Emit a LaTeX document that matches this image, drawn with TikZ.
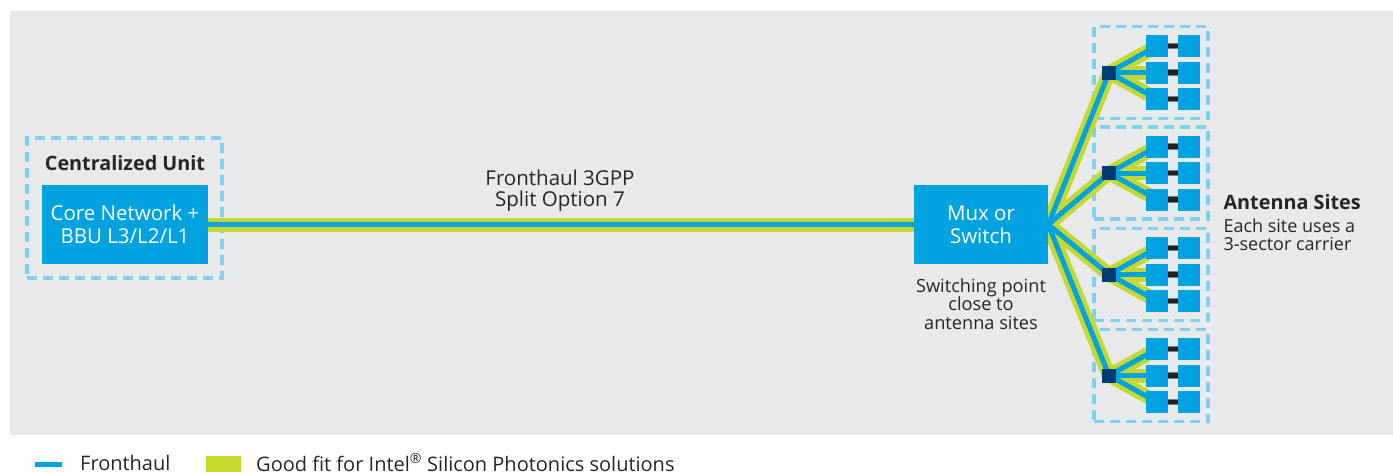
\documentclass[tikz,border=0pt]{standalone}
\usepackage{fontspec}
\setmainfont{Open Sans}
\definecolor{bgc}{HTML}{E8E9EB}
\definecolor{iblue}{HTML}{00A3E0}
\definecolor{navy}{HTML}{003C71}
\definecolor{lime}{HTML}{C4D82E}
\definecolor{dashc}{HTML}{7FD1F2}
\definecolor{txt}{HTML}{262626}
\definecolor{barc}{HTML}{231F20}
\definecolor{barg}{HTML}{7A7B7E}
\pgfdeclarelayer{back}
\pgfdeclarelayer{lines}
\pgfsetlayers{back,lines,main}
\begin{document}
\begin{tikzpicture}[x=1pt,y=-1pt,
  every node/.style={text=txt},
  frame/.style={draw=dashc,line width=3.5pt,dash pattern=on 10pt off 6pt,inner sep=0,minimum width=#1},
  bigbox/.style={fill=iblue,text=white,inner sep=0,minimum height=79pt,align=center,font=\fontsize{20.5}{23}\selectfont},
  sq/.style={fill=iblue,minimum size=22pt,inner sep=0},
  junc/.style={fill=navy,minimum size=14pt,inner sep=0},
  gline/.style={draw=lime,line width=14pt},
  bline/.style={draw=iblue,line width=5pt},
  barout/.style={draw=barg,line width=6.5pt},
  barin/.style={draw=barc,line width=4.5pt},
  lbl/.style={align=center,font=\fontsize{20.5}{21}\selectfont},
  leg/.style={anchor=west,inner sep=0,font=\fontsize{20}{21}\selectfont},
]
\useasboundingbox (0,0) rectangle (1393,474);
\begin{pgfonlayer}{back}
\fill[bgc] (10,11) rectangle (1393,435);
\end{pgfonlayer}

% central unit
\begin{pgfonlayer}{back}
\node[frame=195pt,minimum height=140pt] (cuf) at (124.5,208) {};
\end{pgfonlayer}
\node[font=\fontsize{19.8}{21}\selectfont\bfseries] (cut) at (125,163) {Centralized Unit};
\node[bigbox,minimum width=166pt] (cu) at (125,224.5) {Core Network +\\BBU L3/L2/L1};

% mux
\node[bigbox,minimum width=134pt] (mux) at (981,224.5) {Mux or\\Switch};
\node[align=center,font=\fontsize{18.2}{18.5}\selectfont] (muxt) at (981,304) {Switching point\\close to\\antenna sites};

\node[lbl] (fh) at (560,190.5) {Fronthaul 3GPP\\Split Option 7};

% sites
\foreach \i/\cy in {1/72.5,2/173,3/274.5,4/375.5}{
  \begin{pgfonlayer}{back}
  \node[frame=114pt,minimum height=92pt] (s\i) at (1151,\cy) {};
  \end{pgfonlayer}
  \node[junc] (j\i) at (1109,\cy) {};
  \foreach \r/\dy in {a/-26.5,b/0,c/26.5}{
    \node[sq] (l\i\r) at (1157,\cy+\dy) {};
    \node[sq] (r\i\r) at (1189,\cy+\dy) {};
    \draw[barout] (l\i\r.east) -- (r\i\r.west);
    \draw[barin] (l\i\r.east) -- (r\i\r.west);
  }
}

% connectors
\begin{pgfonlayer}{lines}
\draw[gline] (cu.east) -- (mux.west);
\foreach \i in {1,...,4}{
  \draw[gline] (mux.east) -- (j\i.center);
  \foreach \r in {a,b,c}{\draw[gline] (j\i.center) -- (l\i\r.center);}
}
\draw[bline] (cu.east) -- (mux.west);
\foreach \i in {1,...,4}{
  \draw[bline] (mux.east) -- (j\i.center);
  \foreach \r in {a,b,c}{\draw[bline] (j\i.center) -- (l\i\r.center);}
}
\end{pgfonlayer}

\node[anchor=west,font=\fontsize{19.8}{21}\selectfont\bfseries] (ast) at (1220,202) {Antenna Sites};
\node[anchor=west,align=left,font=\fontsize{18}{17.5}\selectfont] (asd) at (1220,234.5) {Each site uses a\\3-sector carrier};

% legend
\coordinate (lg1) at (35,464);
\coordinate (lg2) at (62,464);
\draw[bline] (lg1) -- (lg2);
\node[leg] (lgt1) at (80,462.5) {Fronthaul};
\node[fill=lime,minimum width=35pt,minimum height=16pt,inner sep=0] (lgsq) at (223,463.5) {};
\node[leg] (lgt2) at (256,462.5) {Good fit for Intel\textsuperscript{®} Silicon Photonics solutions};
\end{tikzpicture}
\end{document}
